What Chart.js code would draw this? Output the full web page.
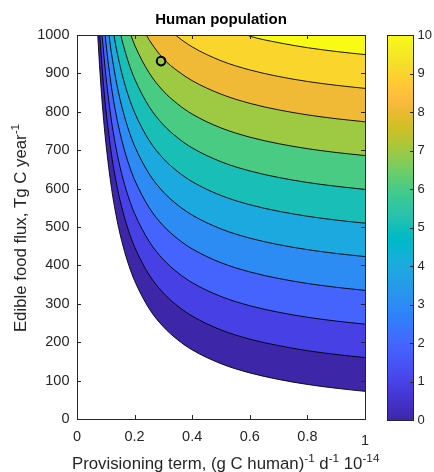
<!DOCTYPE html>
<html>
<head>
<meta charset="utf-8">
<script src="https://cdn.jsdelivr.net/npm/chart.js@4.4.1/dist/chart.umd.min.js"></script>
<style>
  html, body { margin: 0; padding: 0; background: #ffffff; }
  #wrap { position: relative; width: 434px; height: 472px; }
  #wrap canvas { position: absolute; left: 0; top: 0; }
</style>
</head>
<body>
<div id="wrap">
  <canvas id="main" width="434" height="472"></canvas>
  <canvas id="cbar" width="434" height="472"></canvas>
</div>
<script>
// ---------------- data ----------------
const chartTitle = 'Human population';
// axis titles as [text, isSuperscript] pieces
const xTitleParts = [['Provisioning term, (g C human)', false], ['-1', true], [' d', false], ['-1', true], [' 10', false], ['-14', true]];
const yTitleParts = [['Edible food flux, Tg C year', false], ['-1', true]];

const xTickValues = [0, 0.2, 0.4, 0.6, 0.8, 1];
const xTickLabels = ['0', '0.2', '0.4', '0.6', '0.8', '1'];
const yTickValues = [0, 100, 200, 300, 400, 500, 600, 700, 800, 900, 1000];
const cbarTickValues = [0, 1, 2, 3, 4, 5, 6, 7, 8, 9, 10];

const levelValues = [0, 1, 2, 3, 4, 5, 6, 7, 8, 9, 10];

// contour lines, [provisioning term, food flux]
const contour0 = [[0.072,1000],[0.08,900],[0.09,800],[0.1,720],[0.12,600],[0.14,514],[0.16,450],[0.18,400],[0.2,360],[0.25,288],[0.3,240],[0.35,206],[0.4,180],[0.5,144],[0.6,120],[0.7,103],[0.8,90],[0.9,80],[1,72]];
const contour1 = [[0.079,1000],[0.09,888],[0.1,808],[0.12,688],[0.14,602],[0.16,538],[0.18,488],[0.2,448],[0.25,376],[0.3,328],[0.35,294],[0.4,268],[0.5,232],[0.6,208],[0.7,191],[0.8,178],[0.9,168],[1,160]];
const contour2 = [[0.087,1000],[0.1,895],[0.12,775],[0.14,689],[0.16,625],[0.18,575],[0.2,535],[0.25,463],[0.3,415],[0.35,381],[0.4,355],[0.5,319],[0.6,295],[0.7,278],[0.8,265],[0.9,255],[1,247]];
const contour3 = [[0.098,1000],[0.1,983],[0.12,863],[0.14,777],[0.16,713],[0.18,663],[0.2,623],[0.25,551],[0.3,503],[0.35,469],[0.4,443],[0.5,407],[0.6,383],[0.7,366],[0.8,353],[0.9,343],[1,335]];
const contour4 = [[0.111,1000],[0.12,951],[0.14,865],[0.16,801],[0.18,751],[0.2,711],[0.25,639],[0.3,591],[0.35,557],[0.4,531],[0.5,495],[0.6,471],[0.7,454],[0.8,441],[0.9,431],[1,423]];
const contour5 = [[0.128,1000],[0.14,952],[0.16,888],[0.18,838],[0.2,798],[0.25,726],[0.3,678],[0.35,644],[0.4,618],[0.5,582],[0.6,558],[0.7,541],[0.8,528],[0.9,518],[1,510]];
const contour6 = [[0.152,1000],[0.16,976],[0.18,926],[0.2,886],[0.25,814],[0.3,766],[0.35,732],[0.4,706],[0.5,670],[0.6,646],[0.7,629],[0.8,616],[0.9,606],[1,598]];
const contour7 = [[0.187,1000],[0.2,974],[0.25,902],[0.3,854],[0.35,820],[0.4,794],[0.5,758],[0.6,734],[0.7,717],[0.8,704],[0.9,694],[1,686]];
const contour8 = [[0.241,1000],[0.25,988],[0.3,938],[0.35,906],[0.4,881],[0.5,846],[0.6,822],[0.7,805],[0.8,792],[0.9,782],[1,774]];
const contour9 = [[0.342,1000],[0.35,995],[0.4,969],[0.5,933],[0.6,909],[0.7,892],[0.8,879],[0.9,869],[1,861]];
const contour10 = [[0.59,1000],[0.6,997],[0.7,980],[0.8,967],[0.9,957],[1,949]];

// marked point
const markerX = [0.292];
const markerY = [932];

// ---------------- styles ----------------
const bandColors = ['#3e26a8','#4741e5','#4563fd','#2d8cf3','#1ca9df','#19bfb6','#4acb84','#9dc943','#f0ba36','#fad62d','#f9fb15'];
const parula = ['#3e26a8','#402ab4','#422ec0','#4332cb','#4537d5','#463cde','#4741e5','#4747eb','#484df0','#4852f4','#4758f8','#465efb','#4563fd','#4269fe','#3e6fff','#3875fe','#327cfc','#2f81fa','#2e87f7','#2d8cf3','#2b91ef','#2797eb','#259be8','#23a0e5','#20a5e3','#1ca9df','#18addb','#12b1d6','#08b5d0','#01b8ca','#02bac3','#0bbdbd','#19bfb6','#24c1ae','#2cc4a7','#31c69f','#37c897','#3fca8e','#4acb84','#57cc7a','#64cd6f','#72cd64','#81cc59','#8fcb4e','#9dc943','#abc739','#b9c431','#c5c22a','#d1bf27','#dcbd29','#e6bb2d','#f0ba36','#f8ba3d','#febe3c','#fec338','#fec934','#fccf30','#fad62d','#f7dc2a','#f5e327','#f5e924','#f6ef20','#f7f51b','#f9fb15'];

const FONT = "'Liberation Sans', Arial, Helvetica, sans-serif";
const AXIS = '#262626';
const LABEL_SIZE = 16.8;

const contours = [contour0, contour1, contour2, contour3, contour4, contour5, contour6, contour7, contour8, contour9, contour10];

const datasets = contours.map((pts, k) => ({
  type: 'line',
  label: 'P = ' + levelValues[k],
  data: pts.map(p => ({ x: p[0], y: p[1] })),
  borderColor: '#000000',
  borderWidth: 0.9,
  backgroundColor: bandColors[k],
  fill: 'end',
  pointRadius: 0,
  cubicInterpolationMode: 'monotone',
  order: 20 - k
}));
datasets.push({
  type: 'scatter',
  label: 'marker',
  data: markerX.map((x, i) => ({ x: x, y: markerY[i] })),
  pointRadius: 4.3,
  pointBorderWidth: 2,
  pointBorderColor: '#000000',
  pointBackgroundColor: 'rgba(0,0,0,0)',
  order: 0
});

const boxPlugin = {
  id: 'boxTicks',
  afterDatasetsDraw(chart) {
    const { ctx, chartArea: a, scales } = chart;
    ctx.save();
    ctx.strokeStyle = AXIS;
    ctx.lineWidth = 1;
    const len = 4;
    ctx.beginPath();
    xTickValues.forEach(v => {
      const px = Math.round(scales.x.getPixelForValue(v)) + 0.5;
      ctx.moveTo(px, a.bottom); ctx.lineTo(px, a.bottom - len);
      ctx.moveTo(px, a.top); ctx.lineTo(px, a.top + len);
    });
    yTickValues.forEach(v => {
      const py = Math.round(scales.y.getPixelForValue(v)) + 0.5;
      ctx.moveTo(a.left, py); ctx.lineTo(a.left + len, py);
      ctx.moveTo(a.right, py); ctx.lineTo(a.right - len, py);
    });
    ctx.stroke();
    ctx.strokeRect(a.left + 0.5, a.top + 0.5, a.right - a.left, a.bottom - a.top);
    ctx.restore();
  }
};

// axis titles with real superscripts
function drawParts(ctx, parts, size, startX, baseY) {
  let x = startX;
  parts.forEach(([t, sup]) => {
    const s = sup ? size * 0.7 : size;
    ctx.font = s + 'px ' + FONT;
    ctx.fillText(t, x, sup ? baseY - size * 0.42 : baseY);
    x += ctx.measureText(t).width;
  });
  return x - startX;
}
function partsWidth(ctx, parts, size) {
  let w = 0;
  parts.forEach(([t, sup]) => {
    ctx.font = (sup ? size * 0.7 : size) + 'px ' + FONT;
    w += ctx.measureText(t).width;
  });
  return w;
}
const axisTitlePlugin = {
  id: 'axisTitles',
  afterDraw(chart) {
    const { ctx, chartArea: a } = chart;
    ctx.save();
    ctx.fillStyle = AXIS;
    ctx.textAlign = 'left';
    ctx.textBaseline = 'alphabetic';
    // x title
    drawParts(ctx, xTitleParts, LABEL_SIZE, a.left - 5, chart.height - 3);
    // y title (rotated)
    const w = partsWidth(ctx, yTitleParts, LABEL_SIZE);
    ctx.translate(26, (a.top + a.bottom) / 2 + 1);
    ctx.rotate(-Math.PI / 2);
    drawParts(ctx, yTitleParts, LABEL_SIZE, -w / 2, 0);
    ctx.restore();
  }
};

new Chart(document.getElementById('main'), {
  data: { datasets: datasets },
  options: {
    responsive: false,
    animation: false,
    events: [],
    layout: { padding: { left: 0, right: 69, top: 0, bottom: 0 } },
    plugins: {
      legend: { display: false },
      tooltip: { enabled: false },
      title: {
        display: true,
        text: chartTitle,
        fullSize: false,
        color: '#000000',
        font: { family: FONT, size: 15, weight: 'bold', lineHeight: 1.2 },
        padding: { top: 11, bottom: 6 }
      }
    },
    scales: {
      x: {
        type: 'linear',
        min: 0, max: 1,
        afterBuildTicks: s => { s.ticks = xTickValues.map(v => ({ value: v })); },
        afterFit: s => { s.height = 53; },
        ticks: {
          color: AXIS, padding: 9.5, maxRotation: 0, autoSkip: false,
          font: c => ({ family: FONT, size: 14.5, lineHeight: c.index === xTickValues.length - 1 ? 1.75 : 1.2 }),
          callback: (v, i) => xTickLabels[i]
        },
        grid: { display: false, drawTicks: false },
        border: { display: false },
        title: { display: false }
      },
      y: {
        type: 'linear',
        min: 0, max: 1000,
        afterBuildTicks: s => { s.ticks = yTickValues.map(v => ({ value: v })); },
        afterFit: s => { s.width = 77; },
        ticks: {
          color: AXIS, padding: 7.5, autoSkip: false,
          font: { family: FONT, size: 14.5, lineHeight: 1.2 },
          callback: v => String(v)
        },
        grid: { display: false, drawTicks: false },
        border: { display: false },
        title: { display: false }
      }
    }
  },
  plugins: [boxPlugin, axisTitlePlugin]
});

// ---------------- colour bar ----------------
function cbarGradient(chart) {
  const a = chart.chartArea;
  if (!a) return parula[0];
  const g = chart.ctx.createLinearGradient(0, a.bottom, 0, a.top);
  parula.forEach((c, i) => g.addColorStop(i / (parula.length - 1), c));
  return g;
}

const cbarPlugin = {
  id: 'cbarFrame',
  afterDatasetsDraw(chart) {
    const { ctx, chartArea: a, scales } = chart;
    ctx.save();
    ctx.strokeStyle = AXIS;
    ctx.lineWidth = 1;
    ctx.beginPath();
    cbarTickValues.forEach(v => {
      const py = Math.round(scales.y.getPixelForValue(v)) + 0.5;
      ctx.moveTo(a.right, py); ctx.lineTo(a.right - 3, py);
    });
    ctx.stroke();
    ctx.strokeRect(a.left + 0.5, a.top + 0.5, a.right - a.left, a.bottom - a.top);
    ctx.restore();
  }
};

new Chart(document.getElementById('cbar'), {
  type: 'bar',
  data: {
    labels: [''],
    datasets: [{
      data: [[cbarTickValues[0], cbarTickValues[cbarTickValues.length - 1]]],
      backgroundColor: ctx => cbarGradient(ctx.chart),
      borderWidth: 0,
      barPercentage: 1,
      categoryPercentage: 1
    }]
  },
  options: {
    responsive: false,
    animation: false,
    events: [],
    layout: { padding: { left: 387, right: 0, top: 35, bottom: 52 } },
    plugins: { legend: { display: false }, tooltip: { enabled: false } },
    scales: {
      x: { display: false },
      y: {
        position: 'right',
        min: 0, max: 10,
        afterBuildTicks: s => { s.ticks = cbarTickValues.map(v => ({ value: v })); },
        afterFit: s => { s.width = 21; },
        ticks: {
          color: AXIS, padding: 4.5, autoSkip: false,
          font: { family: FONT, size: 13, lineHeight: 1.2 },
          callback: v => String(v)
        },
        grid: { display: false, drawTicks: false },
        border: { display: false }
      }
    }
  },
  plugins: [cbarPlugin]
});
</script>
</body>
</html>
